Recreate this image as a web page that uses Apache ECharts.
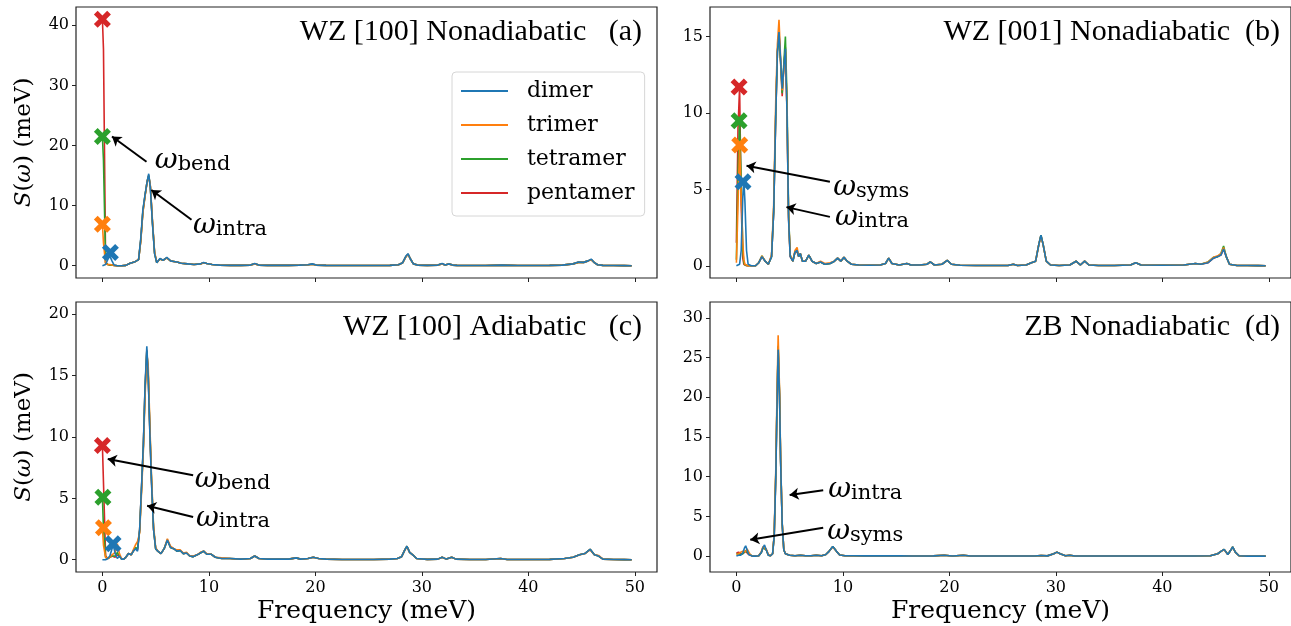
<!DOCTYPE html>
<html><head><meta charset="utf-8">
<script src="https://cdn.jsdelivr.net/npm/echarts/dist/echarts.min.js"></script>
<style>html,body{margin:0;padding:0;background:#fff}#c{width:1291px;height:626px}</style>
</head><body><div id="c"></div>
<script>
// ---------------- DATA ----------------
const seriesNames = ['dimer', 'trimer', 'tetramer', 'pentamer'];
const panelTitles = ['WZ [100] Nonadiabatic   (a)', 'WZ [001] Nonadiabatic  (b)', 'WZ [100] Adiabatic   (c)', 'ZB Nonadiabatic  (d)'];
const xTicks = [0, 10, 20, 30, 40, 50];
const yTicksA = [0, 10, 20, 30, 40];
const yTicksB = [0, 5, 10, 15];
const yTicksC = [0, 5, 10, 15, 20];
const yTicksD = [0, 5, 10, 15, 20, 25, 30];

// Panel (a) WZ [100] Nonadiabatic
const freqA = [0, 0.1, 0.3, 0.5, 0.7, 0.9, 1.1, 1.4, 1.8, 2.2,
  2.6, 3.0, 3.2, 3.4, 3.6, 3.8, 4.0, 4.2, 4.35, 4.5,
  4.7, 4.9, 5.1, 5.4, 5.7, 6.05, 6.4, 6.7, 7.0, 7.4,
  8.0, 8.6, 9.2, 9.5, 9.8, 10.3, 11, 12, 13, 13.9,
  14.3, 14.7, 15.5, 16.5, 17.5, 18.5, 19.3, 19.7, 20.1, 21,
  22.5, 24, 25.5, 27, 27.8, 28.2, 28.5, 28.7, 28.9, 29.2,
  29.6, 30.5, 31.5, 31.9, 32.2, 32.5, 32.9, 33.3, 34.5, 36,
  37.5, 39, 40.5, 42, 43.2, 44.2, 44.7, 45.2, 45.6, 45.9,
  46.2, 46.5, 47, 48, 49, 49.7];
const dimerA = [0, 0, 0.2, 1.0, 1.6, 0.8, 0.1, 0, 0, 0.05,
  0.4, 0.6, 0.8, 1.0, 4.5, 9.3, 11.8, 14.0, 15.3, 13.0,
  7.0, 2.0, 0.5, 1.2, 0.9, 1.4, 0.8, 0.7, 0.6, 0.4,
  0.3, 0.2, 0.3, 0.55, 0.35, 0.2, 0.1, 0.05, 0.05, 0.1,
  0.35, 0.1, 0.05, 0.05, 0.05, 0.1, 0.15, 0.3, 0.1, 0.05,
  0.02, 0.02, 0.02, 0.05, 0.15, 0.5, 1.6, 2.0, 1.2, 0.3,
  0.1, 0.05, 0.1, 0.35, 0.1, 0.3, 0.1, 0.05, 0.03, 0.03,
  0.1, 0.03, 0.03, 0.05, 0.1, 0.3, 0.6, 0.55, 0.8, 1.1,
  0.5, 0.15, 0.05, 0.02, 0.01, 0];
const trimerA = [6.9, 3.8, 0.3, 0.2, 0.2, 0.1, 0.05, 0, 0, 0.05,
  0.4, 0.6, 0.8, 1.1, 4.0, 8.8, 11.5, 14.0, 14.8, 13.4,
  7.5, 2.3, 0.6, 1.1, 0.9, 1.3, 0.8, 0.7, 0.6, 0.4,
  0.3, 0.2, 0.3, 0.5, 0.35, 0.2, 0.1, 0.05, 0.05, 0.1,
  0.3, 0.1, 0.05, 0.05, 0.05, 0.1, 0.15, 0.25, 0.1, 0.05,
  0.02, 0.02, 0.02, 0.05, 0.15, 0.5, 1.5, 1.9, 1.2, 0.3,
  0.1, 0.05, 0.1, 0.3, 0.1, 0.3, 0.1, 0.05, 0.03, 0.03,
  0.1, 0.03, 0.03, 0.05, 0.1, 0.3, 0.55, 0.55, 0.8, 1.0,
  0.5, 0.15, 0.05, 0.02, 0.01, 0];
const tetramerA = [21.5, 17.5, 0.5, 0.2, 0.1, 0.1, 0.05, 0, 0, 0.05,
  0.4, 0.6, 0.8, 1.0, 4.2, 9.0, 11.6, 14.0, 15.0, 13.2,
  7.2, 2.1, 0.5, 1.1, 0.9, 1.3, 0.8, 0.7, 0.6, 0.4,
  0.3, 0.2, 0.3, 0.5, 0.35, 0.2, 0.1, 0.05, 0.05, 0.1,
  0.3, 0.1, 0.05, 0.05, 0.05, 0.1, 0.15, 0.25, 0.1, 0.05,
  0.02, 0.02, 0.02, 0.05, 0.15, 0.5, 1.5, 1.9, 1.2, 0.3,
  0.1, 0.05, 0.1, 0.3, 0.1, 0.3, 0.1, 0.05, 0.03, 0.03,
  0.1, 0.03, 0.03, 0.05, 0.1, 0.3, 0.55, 0.55, 0.8, 1.0,
  0.5, 0.15, 0.05, 0.02, 0.01, 0];
const pentamerA = [41, 36, 0.5, 0.2, 0.1, 0.1, 0.05, 0, 0, 0.05,
  0.4, 0.6, 0.8, 1.0, 4.2, 9.0, 11.6, 14.0, 15.0, 13.2,
  7.2, 2.1, 0.5, 1.1, 0.9, 1.3, 0.8, 0.7, 0.6, 0.4,
  0.3, 0.2, 0.3, 0.5, 0.35, 0.2, 0.1, 0.05, 0.05, 0.1,
  0.3, 0.1, 0.05, 0.05, 0.05, 0.1, 0.15, 0.25, 0.1, 0.05,
  0.02, 0.02, 0.02, 0.05, 0.15, 0.5, 1.5, 1.9, 1.2, 0.3,
  0.1, 0.05, 0.1, 0.3, 0.1, 0.3, 0.1, 0.05, 0.03, 0.03,
  0.1, 0.03, 0.03, 0.05, 0.1, 0.3, 0.55, 0.55, 0.8, 1.0,
  0.5, 0.15, 0.05, 0.02, 0.01, 0];
// X markers [frequency, S] for dimer, trimer, tetramer, pentamer
const markersA = [[0.75, 2.2], [0, 6.9], [0, 21.5], [0, 41]];

// Panel (b) WZ [001] Nonadiabatic
const freqB = [0, 0.15, 0.3, 0.45, 0.6, 0.7, 0.8, 0.95, 1.1, 1.4,
  1.8, 2.1, 2.4, 2.7, 3.0, 3.3, 3.5, 3.7, 3.85, 4.0,
  4.15, 4.3, 4.45, 4.6, 4.75, 4.9, 5.05, 5.3, 5.5, 5.7,
  5.85, 6.0, 6.2, 6.5, 6.8, 7.1, 7.5, 7.9, 8.3, 8.8,
  9.2, 9.5, 9.8, 10.1, 10.4, 10.8, 11.5, 12.5, 13.5, 14.0,
  14.3, 14.6, 15.3, 16.0, 16.4, 17.2, 17.9, 18.2, 18.6, 19.3,
  19.8, 20.2, 21, 22.5, 24, 25.5, 26.0, 26.4, 27.2, 27.7,
  28.1, 28.4, 28.6, 28.8, 29.1, 29.5, 30.3, 31.3, 31.9, 32.3,
  32.7, 33.1, 34, 35.5, 37, 37.5, 38, 40, 42, 43.1,
  43.6, 44.3, 44.8, 45.2, 45.5, 45.75, 46.0, 46.3, 47, 48,
  49, 49.7];
const dimerB = [0, 0, 0.1, 1.0, 4.5, 5.6, 4.2, 1.0, 0.1, 0,
  0, 0.2, 0.6, 0.3, 0.1, 0.6, 3.5, 10.0, 14.0, 15.3,
  13.5, 11.6, 13.0, 14.2, 10.0, 3.0, 0.6, 0.3, 0.9, 1.0,
  0.6, 0.8, 0.3, 0.3, 0.7, 0.3, 0.15, 0.25, 0.1, 0.15,
  0.3, 0.5, 0.3, 0.55, 0.3, 0.1, 0.05, 0.03, 0.05, 0.15,
  0.5, 0.15, 0.05, 0.15, 0.05, 0.05, 0.1, 0.25, 0.05, 0.1,
  0.35, 0.1, 0.03, 0.02, 0.02, 0.02, 0.1, 0.02, 0.05, 0.2,
  0.3, 1.4, 2.0, 1.4, 0.3, 0.05, 0.02, 0.05, 0.3, 0.05,
  0.3, 0.05, 0.02, 0.02, 0.05, 0.2, 0.05, 0.03, 0.05, 0.15,
  0.1, 0.2, 0.5, 0.6, 0.7, 1.1, 0.6, 0.1, 0.02, 0.02,
  0.01, 0];
const trimerB = [0.2, 4.0, 7.9, 4.5, 1.5, 0.4, 0.1, 0.05, 0, 0,
  0, 0.2, 0.65, 0.3, 0.1, 0.7, 4.0, 11.0, 14.5, 16.1,
  13.6, 11.5, 12.8, 14.0, 10.2, 3.2, 0.7, 0.3, 1.0, 1.2,
  0.6, 0.8, 0.3, 0.3, 0.7, 0.3, 0.15, 0.3, 0.15, 0.2,
  0.3, 0.5, 0.3, 0.55, 0.3, 0.1, 0.05, 0.03, 0.05, 0.15,
  0.5, 0.15, 0.05, 0.15, 0.05, 0.05, 0.1, 0.25, 0.05, 0.1,
  0.35, 0.1, 0.03, 0.02, 0.02, 0.02, 0.1, 0.02, 0.05, 0.2,
  0.3, 1.4, 1.9, 1.4, 0.3, 0.05, 0.02, 0.05, 0.3, 0.05,
  0.3, 0.05, 0.02, 0.02, 0.05, 0.2, 0.05, 0.03, 0.05, 0.15,
  0.1, 0.25, 0.55, 0.65, 0.8, 1.2, 0.6, 0.1, 0.02, 0.02,
  0.01, 0];
const tetramerB = [0.4, 6.0, 9.5, 5.5, 1.0, 0.2, 0.05, 0, 0, 0,
  0, 0.2, 0.65, 0.3, 0.1, 0.6, 3.6, 10.2, 14.0, 15.0,
  13.4, 11.3, 13.2, 15.0, 11.0, 3.4, 0.7, 0.3, 0.9, 1.0,
  0.6, 0.8, 0.3, 0.3, 0.7, 0.3, 0.15, 0.25, 0.1, 0.15,
  0.3, 0.5, 0.3, 0.55, 0.3, 0.1, 0.05, 0.03, 0.05, 0.15,
  0.5, 0.15, 0.05, 0.15, 0.05, 0.05, 0.1, 0.25, 0.05, 0.1,
  0.35, 0.1, 0.03, 0.02, 0.02, 0.02, 0.1, 0.02, 0.05, 0.2,
  0.3, 1.4, 2.0, 1.4, 0.3, 0.05, 0.02, 0.05, 0.3, 0.05,
  0.3, 0.05, 0.02, 0.02, 0.05, 0.2, 0.05, 0.03, 0.05, 0.15,
  0.1, 0.25, 0.55, 0.6, 0.8, 1.3, 0.6, 0.1, 0.02, 0.02,
  0.01, 0];
const pentamerB = [1.5, 9.0, 11.7, 4.0, 0.5, 0.1, 0.05, 0, 0, 0,
  0, 0.2, 0.6, 0.3, 0.1, 0.6, 3.5, 10.0, 14.0, 15.2,
  13.3, 11.1, 13.0, 14.3, 10.2, 3.1, 0.6, 0.3, 0.9, 0.9,
  0.6, 0.8, 0.3, 0.3, 0.7, 0.3, 0.15, 0.25, 0.1, 0.15,
  0.3, 0.5, 0.3, 0.55, 0.3, 0.1, 0.05, 0.03, 0.05, 0.15,
  0.5, 0.15, 0.05, 0.15, 0.05, 0.05, 0.1, 0.25, 0.05, 0.1,
  0.35, 0.1, 0.03, 0.02, 0.02, 0.02, 0.1, 0.02, 0.05, 0.2,
  0.3, 1.4, 2.0, 1.4, 0.3, 0.05, 0.02, 0.05, 0.3, 0.05,
  0.3, 0.05, 0.02, 0.02, 0.05, 0.2, 0.05, 0.03, 0.05, 0.15,
  0.1, 0.2, 0.5, 0.6, 0.7, 1.1, 0.6, 0.1, 0.02, 0.02,
  0.01, 0];
const markersB = [[0.62, 5.5], [0.31, 7.9], [0.25, 9.5], [0.25, 11.7]];

// Panel (c) WZ [100] Adiabatic
const freqC = [0, 0.1, 0.3, 0.5, 0.7, 0.9, 1.05, 1.2, 1.4, 1.6,
  1.8, 2.0, 2.2, 2.45, 2.7, 2.9, 3.1, 3.3, 3.5, 3.7,
  3.85, 4.0, 4.17, 4.3, 4.45, 4.6, 4.8, 5.0, 5.2, 5.5,
  5.8, 6.1, 6.4, 6.7, 7.0, 7.3, 7.6, 7.9, 8.2, 8.5,
  8.9, 9.2, 9.5, 9.8, 10.2, 10.6, 11.2, 12, 13, 13.9,
  14.3, 14.7, 15.5, 16.5, 17.5, 18.2, 18.6, 19.3, 19.8, 20.3,
  21, 22.5, 24, 25.5, 27, 27.7, 28.1, 28.4, 28.6, 28.85,
  29.2, 29.5, 30.5, 31.5, 31.9, 32.3, 32.8, 33.2, 34.5, 36,
  37.4, 38, 40, 42, 43.4, 44.2, 44.8, 45.3, 45.8, 46.2,
  46.6, 47, 48, 49, 49.7];
const dimerC = [0, 0, 0, 0.1, 0.3, 0.9, 1.1, 0.5, 0.1, 0.3,
  0.05, 0.05, 0.2, 0.5, 0.4, 0.7, 0.9, 0.7, 2.5, 6.5,
  9.5, 14.0, 17.4, 15.0, 10.5, 6.5, 2.5, 0.9, 0.7, 0.5,
  0.9, 1.6, 1.0, 0.9, 0.7, 0.75, 0.5, 0.55, 0.3, 0.25,
  0.4, 0.55, 0.7, 0.45, 0.45, 0.2, 0.1, 0.1, 0.05, 0.1,
  0.3, 0.1, 0.05, 0.05, 0.05, 0.15, 0.05, 0.1, 0.2, 0.1,
  0.05, 0.02, 0.02, 0.02, 0.05, 0.1, 0.25, 0.8, 1.1, 0.6,
  0.35, 0.1, 0.03, 0.05, 0.2, 0.05, 0.2, 0.05, 0.02, 0.02,
  0.1, 0.02, 0.02, 0.03, 0.1, 0.2, 0.4, 0.5, 0.85, 0.4,
  0.3, 0.05, 0.02, 0.01, 0];
const trimerC = [2.6, 1.2, 0.2, 0.1, 0.2, 0.4, 0.3, 0.6, 1.3, 0.5,
  0.1, 0.05, 0.2, 0.5, 0.4, 0.8, 1.2, 1.5, 2.2, 6.0,
  9.0, 13.2, 16.8, 15.8, 11.2, 7.0, 2.8, 1.0, 0.7, 0.5,
  0.9, 1.7, 1.1, 0.9, 0.8, 0.8, 0.55, 0.6, 0.3, 0.3,
  0.4, 0.6, 0.7, 0.5, 0.45, 0.2, 0.15, 0.1, 0.05, 0.1,
  0.3, 0.1, 0.05, 0.05, 0.05, 0.15, 0.05, 0.1, 0.2, 0.1,
  0.05, 0.02, 0.02, 0.02, 0.05, 0.1, 0.25, 0.8, 1.05, 0.6,
  0.35, 0.1, 0.03, 0.05, 0.2, 0.05, 0.2, 0.05, 0.02, 0.02,
  0.1, 0.02, 0.02, 0.03, 0.1, 0.2, 0.4, 0.5, 0.8, 0.4,
  0.35, 0.05, 0.02, 0.01, 0];
const tetramerC = [5.1, 2.5, 0.2, 0.1, 0.2, 0.3, 0.2, 0.3, 0.6, 0.3,
  0.05, 0.05, 0.2, 0.5, 0.4, 0.7, 1.0, 0.9, 2.4, 6.3,
  9.3, 13.8, 17.0, 15.2, 10.8, 6.8, 2.6, 0.9, 0.7, 0.5,
  0.9, 1.6, 1.0, 0.9, 0.7, 0.75, 0.5, 0.55, 0.3, 0.25,
  0.4, 0.55, 0.7, 0.45, 0.45, 0.2, 0.1, 0.1, 0.05, 0.1,
  0.3, 0.1, 0.05, 0.05, 0.05, 0.15, 0.05, 0.1, 0.2, 0.1,
  0.05, 0.02, 0.02, 0.02, 0.05, 0.1, 0.25, 0.8, 1.1, 0.6,
  0.35, 0.1, 0.03, 0.05, 0.2, 0.05, 0.2, 0.05, 0.02, 0.02,
  0.1, 0.02, 0.02, 0.03, 0.1, 0.2, 0.4, 0.5, 0.85, 0.4,
  0.3, 0.05, 0.02, 0.01, 0];
const pentamerC = [9.3, 6.3, 0.3, 0.1, 0.2, 0.3, 0.2, 0.2, 0.4, 0.3,
  0.05, 0.05, 0.2, 0.5, 0.4, 0.7, 0.9, 0.8, 2.5, 6.4,
  9.4, 13.9, 17.1, 15.1, 10.6, 6.6, 2.5, 0.9, 0.7, 0.5,
  0.9, 1.6, 1.0, 0.9, 0.7, 0.75, 0.5, 0.55, 0.3, 0.25,
  0.4, 0.55, 0.7, 0.45, 0.45, 0.2, 0.1, 0.1, 0.05, 0.1,
  0.3, 0.1, 0.05, 0.05, 0.05, 0.15, 0.05, 0.1, 0.2, 0.1,
  0.05, 0.02, 0.02, 0.02, 0.05, 0.1, 0.25, 0.8, 1.1, 0.6,
  0.35, 0.1, 0.03, 0.05, 0.2, 0.05, 0.2, 0.05, 0.02, 0.02,
  0.1, 0.02, 0.02, 0.03, 0.1, 0.2, 0.4, 0.5, 0.85, 0.4,
  0.3, 0.05, 0.02, 0.01, 0];
const markersC = [[1.0, 1.3], [0.1, 2.6], [0.05, 5.1], [0, 9.3]];

// Panel (d) ZB Nonadiabatic
const freqD = [0, 0.2, 0.4, 0.6, 0.75, 0.87, 1.0, 1.15, 1.3, 1.5,
  1.8, 2.1, 2.35, 2.5, 2.64, 2.8, 3.0, 3.2, 3.4, 3.55,
  3.7, 3.8, 3.92, 4.05, 4.15, 4.3, 4.45, 4.6, 5.0, 5.5,
  6.0, 6.5, 7.0, 7.5, 8.0, 8.4, 8.7, 9.05, 9.4, 9.7,
  10.2, 11, 12, 13, 14, 15.4, 16.5, 17.5, 18.5, 19.5,
  20.3, 21.3, 22, 24, 26, 28, 28.6, 29.2, 29.8, 30.1,
  30.4, 30.9, 31.3, 31.8, 33, 35, 37, 39, 41, 43,
  44.5, 45.2, 45.5, 45.8, 46.15, 46.4, 46.6, 46.85, 47.2, 48,
  49, 49.7];
const dimerD = [0, 0.1, 0.1, 0.4, 1.0, 1.3, 0.8, 0.2, 0.05, 0,
  0, 0.05, 0.5, 1.1, 1.4, 0.8, 0.1, 0.05, 0.3, 2.5,
  10, 18, 26, 20, 12, 4, 0.8, 0.3, 0.1, 0.05,
  0.1, 0.05, 0.05, 0.1, 0.05, 0.2, 0.6, 1.2, 0.6, 0.15,
  0.05, 0.05, 0.03, 0.03, 0.03, 0.05, 0.02, 0.02, 0.03, 0.1,
  0.02, 0.1, 0.02, 0.01, 0.01, 0.02, 0.08, 0.03, 0.3, 0.5,
  0.3, 0.05, 0.1, 0.02, 0.01, 0.01, 0.01, 0.01, 0.01, 0.02,
  0.05, 0.3, 0.6, 0.85, 0.2, 0.7, 1.15, 0.5, 0.05, 0,
  0, 0];
const trimerD = [0.2, 0.3, 0.5, 0.6, 0.5, 0.6, 0.9, 0.7, 0.2, 0,
  0, 0.05, 0.6, 1.2, 1.3, 0.9, 0.2, 0.05, 0.3, 2.8,
  11, 19.5, 27.8, 21, 12.5, 4.2, 0.9, 0.3, 0.1, 0.05,
  0.1, 0.05, 0.05, 0.1, 0.05, 0.2, 0.6, 1.15, 0.6, 0.15,
  0.05, 0.05, 0.03, 0.03, 0.03, 0.05, 0.02, 0.02, 0.03, 0.1,
  0.02, 0.1, 0.02, 0.01, 0.01, 0.02, 0.08, 0.03, 0.3, 0.5,
  0.3, 0.05, 0.1, 0.02, 0.01, 0.01, 0.01, 0.01, 0.01, 0.02,
  0.05, 0.3, 0.6, 0.8, 0.2, 0.7, 1.1, 0.5, 0.05, 0,
  0, 0];
const tetramerD = [0.3, 0.3, 0.2, 0.3, 0.5, 0.7, 0.5, 0.3, 0.1, 0,
  0, 0.05, 0.5, 1.1, 1.3, 0.8, 0.1, 0.05, 0.3, 2.6,
  10.5, 18.5, 26.5, 20.5, 12.2, 4.1, 0.8, 0.3, 0.1, 0.05,
  0.1, 0.05, 0.05, 0.1, 0.05, 0.2, 0.6, 1.2, 0.6, 0.15,
  0.05, 0.05, 0.03, 0.03, 0.03, 0.05, 0.02, 0.02, 0.03, 0.1,
  0.02, 0.1, 0.02, 0.01, 0.01, 0.02, 0.08, 0.03, 0.3, 0.5,
  0.3, 0.05, 0.1, 0.02, 0.01, 0.01, 0.01, 0.01, 0.01, 0.02,
  0.05, 0.3, 0.6, 0.85, 0.2, 0.7, 1.15, 0.5, 0.05, 0,
  0, 0];
const pentamerD = [0.4, 0.5, 0.3, 0.3, 0.4, 0.6, 0.4, 0.2, 0.05, 0,
  0, 0.05, 0.5, 1.1, 1.3, 0.8, 0.1, 0.05, 0.3, 2.6,
  10.3, 18.3, 26.3, 20.3, 12.1, 4.0, 0.8, 0.3, 0.1, 0.05,
  0.1, 0.05, 0.05, 0.1, 0.05, 0.2, 0.6, 1.2, 0.6, 0.15,
  0.05, 0.05, 0.03, 0.03, 0.03, 0.05, 0.02, 0.02, 0.03, 0.1,
  0.02, 0.1, 0.02, 0.01, 0.01, 0.02, 0.08, 0.03, 0.3, 0.5,
  0.3, 0.05, 0.1, 0.02, 0.01, 0.01, 0.01, 0.01, 0.01, 0.02,
  0.05, 0.3, 0.6, 0.85, 0.2, 0.7, 1.15, 0.5, 0.05, 0,
  0, 0];

// ---------------- LAYOUT / STYLE ----------------
const SERIF = 'DejaVu Serif';
const TITLEFONT = 'Liberation Serif';
const COLORS = { dimer: '#1f77b4', trimer: '#ff7f0e', tetramer: '#2ca02c', pentamer: '#d62728' };
const XPATH = 'path://M2.2,0 L5,2.8 L7.8,0 L10,2.2 L7.2,5 L10,7.8 L7.8,10 L5,7.2 L2.2,10 L0,7.8 L2.8,5 L0,2.2 Z';

// annotation placement (data coordinates of each panel)
const annotations = [
  { texts: [{ x: 4.92, y: 17.9, t: 'bend' }, { x: 8.5, y: 7.1, t: 'intra' }],
    arrows: [[4.14, 17.3, 0.9, 21.5], [8.37, 7.64, 4.6, 12.6]] },
  { texts: [{ x: 9.09, y: 5.28, t: 'syms' }, { x: 9.25, y: 3.32, t: 'intra' }],
    arrows: [[8.78, 5.5, 0.95, 6.55], [8.78, 3.2, 4.7, 3.84]] },
  { texts: [{ x: 8.68, y: 6.75, t: 'bend' }, { x: 8.78, y: 3.62, t: 'intra' }],
    arrows: [[8.52, 6.88, 0.5, 8.2], [8.52, 3.48, 4.2, 4.4]] },
  { texts: [{ x: 8.62, y: 8.7, t: 'intra' }, { x: 8.52, y: 3.46, t: 'syms' }],
    arrows: [[8.15, 8.28, 5.0, 7.7], [8.15, 3.58, 1.3, 2.05]] }
];

const panels = [
  { freq: freqA, ys: [dimerA, trimerA, tetramerA, pentamerA], marks: markersA, ymin: -2.05, ymax: 43.05, yticks: yTicksA,
    grid: { left: 76, top: 7, width: 581, height: 271 }, xlab: false, ylab: true, tx: 642, ty: 32.5 },
  { freq: freqB, ys: [dimerB, trimerB, tetramerB, pentamerB], marks: markersB, ymin: -0.8, ymax: 16.94, yticks: yTicksB,
    grid: { left: 710, top: 7, width: 582, height: 271 }, xlab: false, ylab: false, tx: 1280, ty: 32.5 },
  { freq: freqC, ys: [dimerC, trimerC, tetramerC, pentamerC], marks: markersC, ymin: -1, ymax: 21, yticks: yTicksC,
    grid: { left: 76, top: 302, width: 581, height: 270 }, xlab: true, ylab: true, tx: 642, ty: 327 },
  { freq: freqD, ys: [dimerD, trimerD, tetramerD, pentamerD], marks: null, ymin: -2, ymax: 32, yticks: yTicksD,
    grid: { left: 710, top: 302, width: 582, height: 270 }, xlab: true, ylab: false, tx: 1280, ty: 327 }
];

const grids = [], xAxes = [], yAxes = [], series = [], graphics = [];
panels.forEach((p, i) => {
  grids.push(Object.assign({ show: true, borderColor: '#222', borderWidth: 1.2, backgroundColor: 'transparent', containLabel: false }, p.grid));
  xAxes.push({
    type: 'value', gridIndex: i, min: -2.48, max: 52.08,
    axisLine: { show: false, onZero: false },
    splitLine: { show: false },
    axisTick: { show: true, length: 4, lineStyle: { color: '#222', width: 1 }, customValues: xTicks },
    axisLabel: { show: p.xlab, customValues: xTicks, margin: 8, fontFamily: SERIF, fontSize: 16, color: '#000' },
    name: p.xlab ? 'Frequency (meV)' : '', nameLocation: 'middle', nameGap: 27,
    nameTextStyle: { fontFamily: SERIF, fontSize: 25, color: '#000' }
  });
  yAxes.push({
    type: 'value', gridIndex: i, min: p.ymin, max: p.ymax,
    axisLine: { show: false, onZero: false },
    splitLine: { show: false },
    axisTick: { show: true, length: 4, lineStyle: { color: '#222', width: 1 }, customValues: p.yticks },
    axisLabel: { show: true, customValues: p.yticks, margin: 7, fontFamily: SERIF, fontSize: 16, color: '#000' },
    name: p.ylab ? '{i|S}({i|\u03c9}) (meV)' : '', nameLocation: 'middle', nameGap: 40, nameRotate: 90,
    nameTextStyle: { fontFamily: SERIF, fontSize: 23, color: '#000',
      rich: { i: { fontFamily: SERIF, fontStyle: 'italic', fontSize: 23, color: '#000' } } }
  });
  // lines: draw pentamer first, dimer last (on top)
  [3, 2, 1, 0].forEach(k => {
    const nm = seriesNames[k];
    series.push({
      type: 'line', name: nm, xAxisIndex: i, yAxisIndex: i,
      data: p.freq.map((x, j) => [x, p.ys[k][j]]),
      symbol: 'none', showSymbol: false, smooth: false, clip: true, silent: true,
      lineStyle: { color: COLORS[nm], width: 1.6 }, itemStyle: { color: COLORS[nm] },
      emphasis: { disabled: true }, z: 2
    });
  });
  if (p.marks) {
    [3, 2, 1, 0].forEach(k => {
      const nm = seriesNames[k];
      series.push({
        type: 'scatter', name: nm + ' mode', xAxisIndex: i, yAxisIndex: i,
        data: [p.marks[k]], symbol: XPATH, symbolSize: 17, silent: true,
        itemStyle: { color: COLORS[nm], opacity: 1 }, emphasis: { disabled: true }, z: 4
      });
    });
  }
  const an = annotations[i];
  series.push({
    type: 'scatter', name: 'annotation', xAxisIndex: i, yAxisIndex: i, silent: true,
    symbolSize: 0, z: 6, itemStyle: { opacity: 1 },
    data: an.texts.map(t => ({ value: [t.x, t.y], label: { formatter: '{w|\u03c9}{s|' + t.t + '}' } })),
    label: {
      show: true, position: [0, 0], align: 'left', verticalAlign: 'middle', color: '#000',
      textBorderWidth: 0, opacity: 1,
      rich: {
        w: { fontFamily: SERIF, fontStyle: 'italic', fontSize: 28, lineHeight: 34, verticalAlign: 'bottom', color: '#000', textBorderWidth: 0 },
        s: { fontFamily: SERIF, fontSize: 21, lineHeight: 19, verticalAlign: 'bottom', color: '#000', textBorderWidth: 0 }
      }
    },
    markLine: {
      silent: true, animation: false, symbol: ['none', 'arrow'], symbolSize: 9,
      lineStyle: { color: '#000', width: 2, type: 'solid' },
      label: { show: false }, emphasis: { disabled: true },
      data: an.arrows.map(a => [{ coord: [a[0], a[1]] }, { coord: [a[2], a[3]] }])
    }
  });
  graphics.push({
    type: 'text', x: p.tx, y: p.ty, silent: true,
    style: { text: panelTitles[i], align: 'right', verticalAlign: 'middle', fontFamily: TITLEFONT, fontSize: 30, fill: '#000' }
  });
});

const chart = echarts.init(document.getElementById('c'), null, { renderer: 'canvas' });
chart.setOption({
  animation: false,
  backgroundColor: '#fff',
  grid: grids, xAxis: xAxes, yAxis: yAxes, series: series,
  legend: {
    data: seriesNames, orient: 'vertical', left: 452, top: 72,
    icon: 'rect', itemWidth: 47, itemHeight: 2, itemGap: 10,
    padding: [7, 10, 11, 9],
    backgroundColor: 'rgba(255,255,255,0.8)', borderColor: '#d6d6d6', borderWidth: 1, borderRadius: 4,
    selectedMode: false,
    textStyle: { fontFamily: SERIF, fontSize: 22, lineHeight: 24, color: '#000', padding: [0, 0, 0, 14] }
  },
  graphic: graphics
});
</script>
</body></html>
